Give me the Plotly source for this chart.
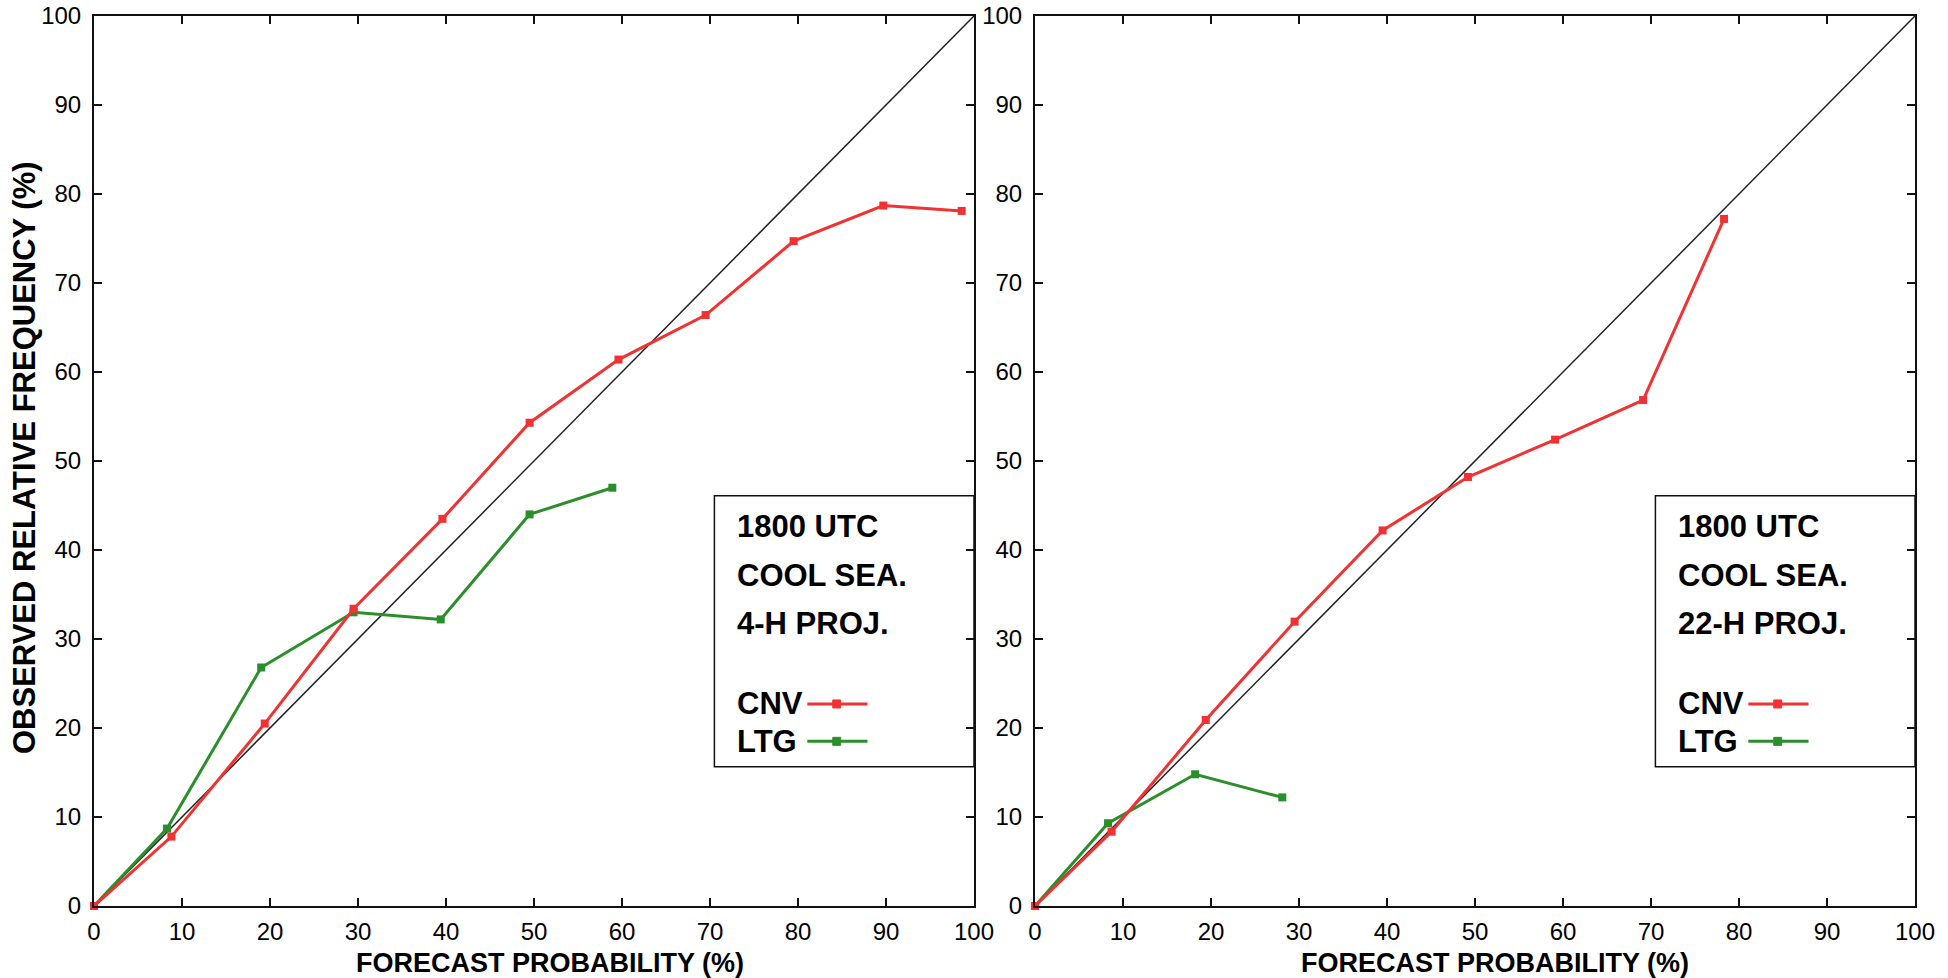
import plotly.graph_objects as go

# ---- data ----
ticks = [0, 10, 20, 30, 40, 50, 60, 70, 80, 90, 100]
perfect = [0, 100]

left_x_cnv = [0, 8.8, 19.4, 29.5, 39.6, 49.5, 59.6, 69.5, 79.5, 89.7, 98.6]
left_y_cnv = [0, 7.8, 20.5, 33.4, 43.5, 54.3, 61.4, 66.4, 74.7, 78.7, 78.1]
left_x_ltg = [0, 8.3, 19.0, 29.5, 39.4, 49.5, 58.9]
left_y_ltg = [0, 8.7, 26.8, 33.0, 32.2, 44.0, 47.0]

right_x_cnv = [0, 8.7, 19.4, 29.5, 39.5, 49.2, 59.1, 69.1, 78.3]
right_y_cnv = [0, 8.35, 20.9, 31.95, 42.2, 48.2, 52.4, 56.85, 77.2]
right_x_ltg = [0, 8.3, 18.2, 28.1]
right_y_ltg = [0, 9.3, 14.8, 12.2]

left_labels = ["1800 UTC", "COOL SEA.", "4-H PROJ."]
right_labels = ["1800 UTC", "COOL SEA.", "22-H PROJ."]
series_names = ["CNV", "LTG"]

RED = "#f23232"
GREEN = "#2a8f2a"
FONT = "Liberation Sans, Arial, sans-serif"

W, H = 1948, 978

def fx(px):
    return px / W

def fy(py):
    return 1 - py / H

dom_left = [fx(94), fx(974)]
dom_right = [fx(1035), fx(1915)]
dom_y = [fy(906), fy(16)]

fig = go.Figure()

def add_panel(xa, ya, xc, yc, xl, yl):
    fig.add_trace(go.Scatter(x=perfect, y=perfect, mode="lines",
                             line=dict(color="#222222", width=1.5),
                             xaxis=xa, yaxis=ya, showlegend=False, hoverinfo="skip"))
    fig.add_trace(go.Scatter(x=xl, y=yl, mode="lines+markers", name="LTG",
                             line=dict(color=GREEN, width=3),
                             marker=dict(symbol="square", size=8, color=GREEN),
                             xaxis=xa, yaxis=ya, showlegend=False, cliponaxis=False))
    fig.add_trace(go.Scatter(x=xc, y=yc, mode="lines+markers", name="CNV",
                             line=dict(color=RED, width=3),
                             marker=dict(symbol="square", size=8, color=RED),
                             xaxis=xa, yaxis=ya, showlegend=False, cliponaxis=False))

add_panel("x", "y", left_x_cnv, left_y_cnv, left_x_ltg, left_y_ltg)
add_panel("x2", "y2", right_x_cnv, right_y_cnv, right_x_ltg, right_y_ltg)

axis_common = dict(range=[0, 100], tickvals=ticks, showgrid=False, zeroline=False,
                   automargin=False, ticklabeloverflow="allow",
                   showline=True, linecolor="#111111", linewidth=2, mirror="allticks",
                   ticks="inside", ticklen=8, tickwidth=2, tickcolor="#111111",
                   tickfont=dict(family=FONT, size=24, color="#000000"))

fig.update_layout(
    width=W, height=H,
    margin=dict(l=0, r=0, t=0, b=0, autoexpand=False),
    paper_bgcolor="white", plot_bgcolor="white",
    showlegend=False,
    xaxis=dict(domain=dom_left, anchor="y", ticklabelstandoff=3, **axis_common),
    yaxis=dict(domain=dom_y, anchor="x", ticklabelstandoff=6, **axis_common),
    xaxis2=dict(domain=dom_right, anchor="y2", ticklabelstandoff=3, **axis_common),
    yaxis2=dict(domain=dom_y, anchor="x2", ticklabelstandoff=6, **axis_common),
)

# legend boxes (in each panel's own data coordinates)
shapes = []
annotations = []
box = dict(x0=70.5, x1=100, y0=15.65, y1=46.1)
text_x = 72.8
text_y = [42.6, 37.1, 31.7]
leg_y = [22.7, 18.5]
leg_x0, leg_x1, leg_xm = 81.06, 87.9, 84.4
box_font = dict(family=FONT, size=31, color="#000000", weight="bold")

for xa, ya, labels in [("x", "y", left_labels), ("x2", "y2", right_labels)]:
    shapes.append(dict(type="rect", xref=xa, yref=ya, **box,
                       line=dict(color="#111111", width=1.5), fillcolor="rgba(0,0,0,0)",
                       layer="above"))
    for t, yy in zip(labels, text_y):
        annotations.append(dict(x=text_x, y=yy, xref=xa, yref=ya, text=t, showarrow=False,
                                xanchor="left", yanchor="middle", font=box_font))
    for name, yy, col in zip(series_names, leg_y, [RED, GREEN]):
        annotations.append(dict(x=text_x, y=yy, xref=xa, yref=ya, text=name, showarrow=False,
                                xanchor="left", yanchor="middle", font=box_font))
        shapes.append(dict(type="line", xref=xa, yref=ya, x0=leg_x0, x1=leg_x1, y0=yy, y1=yy,
                           line=dict(color=col, width=3)))
        shapes.append(dict(type="rect", xref=xa, yref=ya, x0=leg_xm - 0.45, x1=leg_xm + 0.45,
                           y0=yy - 0.45, y1=yy + 0.45, line=dict(color=col, width=1),
                           fillcolor=col))

# axis titles
title_font = dict(family=FONT, size=27, color="#000000", weight="bold")
annotations.append(dict(x=fx(550), y=fy(963), xref="paper", yref="paper",
                        text="FORECAST PROBABILITY (%)", showarrow=False,
                        xanchor="center", yanchor="middle", font=title_font))
annotations.append(dict(x=fx(1495), y=fy(963), xref="paper", yref="paper",
                        text="FORECAST PROBABILITY (%)", showarrow=False,
                        xanchor="center", yanchor="middle", font=title_font))
annotations.append(dict(x=fx(24), y=fy(458), xref="paper", yref="paper",
                        text="OBSERVED RELATIVE FREQUENCY (%)", showarrow=False, textangle=-90,
                        xanchor="center", yanchor="middle",
                        font=dict(family=FONT, size=31, color="#000000", weight="bold")))

fig.update_layout(shapes=shapes, annotations=annotations)
fig.write_html("out.html",
               config={"displayModeBar": False},
               post_script="document.body.style.margin='0px';document.body.style.overflow='hidden';")
